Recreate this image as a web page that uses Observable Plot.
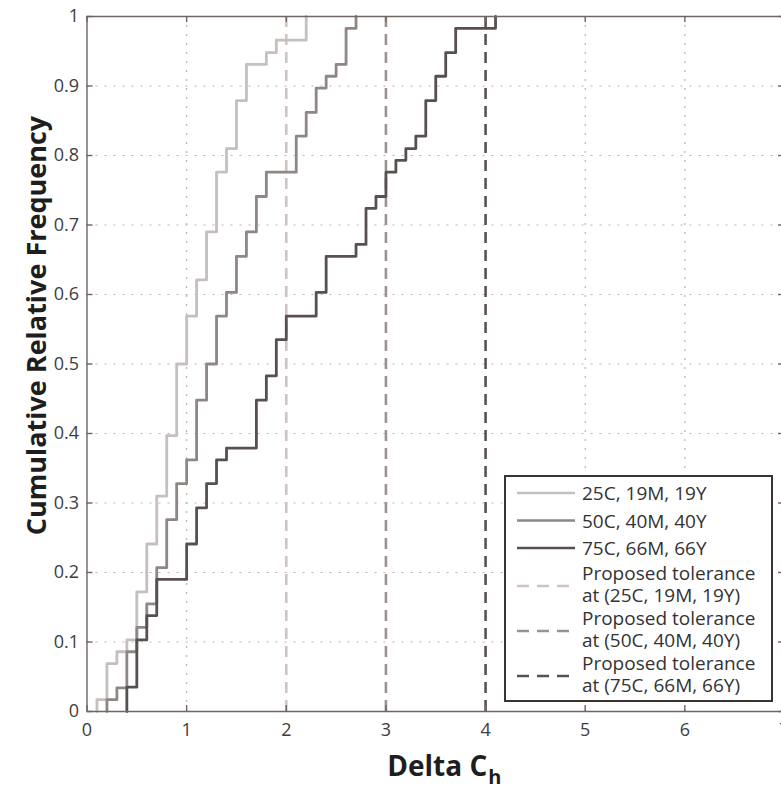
<!DOCTYPE html>
<html><head><meta charset="utf-8">
<script src="https://cdn.jsdelivr.net/npm/d3@7"></script>
<script src="https://cdn.jsdelivr.net/npm/@observablehq/plot@0.6"></script>
<style>
html,body{margin:0;padding:0;background:#fff;overflow:hidden;}
#wrap{position:relative;width:781px;height:788px;overflow:hidden;}
#wrap svg.legend{position:absolute;left:0;top:0;}
</style></head><body><div id="wrap"></div>
<script>
// ---- data ----
const seriesNames = ["25C, 19M, 19Y", "50C, 40M, 40Y", "75C, 66M, 66Y"];
const lightX = [0.1,0.2,0.3,0.4,0.5,0.6,0.7,0.8,0.9,1.0,1.1,1.2,1.3,1.4,1.5,1.6,1.8,1.9,2.2];
const lightY = [0.017,0.069,0.086,0.103,0.172,0.241,0.310,0.397,0.500,0.569,0.621,0.690,0.776,0.810,0.879,0.931,0.948,0.966,1.0];
const mediumX = [0.2,0.3,0.4,0.5,0.6,0.7,0.8,0.9,1.0,1.1,1.2,1.3,1.4,1.5,1.6,1.7,1.8,2.1,2.2,2.3,2.4,2.5,2.6,2.7];
const mediumY = [0.017,0.034,0.086,0.121,0.155,0.207,0.276,0.328,0.362,0.448,0.500,0.569,0.603,0.655,0.690,0.741,0.776,0.828,0.862,0.897,0.914,0.931,0.983,1.0];
const darkX = [0.4,0.5,0.6,0.7,1.0,1.1,1.2,1.3,1.4,1.7,1.8,1.9,2.0,2.3,2.4,2.7,2.8,2.9,3.0,3.1,3.2,3.3,3.4,3.5,3.6,3.7,4.1];
const darkY = [0.035,0.103,0.138,0.190,0.241,0.293,0.328,0.362,0.379,0.448,0.483,0.535,0.569,0.603,0.655,0.672,0.724,0.741,0.776,0.793,0.810,0.828,0.879,0.914,0.948,0.983,1.0];
const toleranceX = [2, 3, 4];
const toleranceNames = ["at (25C, 19M, 19Y)", "at (50C, 40M, 40Y)", "at (75C, 66M, 66Y)"];
const xTicks = [0,1,2,3,4,5,6,7];
const xTickLabels = ["0","1","2","3","4","5","6","7"];
const yTicks = [0,0.1,0.2,0.3,0.4,0.5,0.6,0.7,0.8,0.9,1];
const yTickLabels = ["0","0.1","0.2","0.3","0.4","0.5","0.6","0.7","0.8","0.9","1"];
const yTitle = "Cumulative Relative Frequency";
const xTitle = "Delta C";
const xTitleSub = "h";

// ---- styles ----
const lineColors = ["#c5bfbd", "#8e8785", "#585050"];
const tolColors = ["#cfc4bf", "#9c928e", "#5a5251"];
const frameColor = "#6f6562";
const gridColor = "#bdb4b0";
const font = "'Open Sans', sans-serif";

const series = [[lightX, lightY], [mediumX, mediumY], [darkX, darkY]].map(([xs, ys]) =>
  [{x: xs[0], y: 0}, ...xs.map((x, i) => ({x, y: ys[i]}))]
);

const marks = [
  Plot.ruleX(xTicks.slice(1, -1), {x: d => d, stroke: gridColor, strokeWidth: 1.2, strokeDasharray: "2,7"}),
  Plot.ruleY(yTicks.slice(1, -1), {y: d => d, stroke: gridColor, strokeWidth: 1.2, strokeDasharray: "2,7"}),
  ...toleranceX.map((t, i) => Plot.ruleX([t], {x: d => d, stroke: tolColors[i], strokeWidth: 2.6, strokeDasharray: "11,7"})),
  ...series.map((data, i) => Plot.line(data, {x: "x", y: "y", curve: "step-after", stroke: lineColors[i], strokeWidth: 2.8})),
  // frame
  Plot.ruleX([0, 7], {x: d => d, stroke: frameColor, strokeWidth: 1.4}),
  Plot.ruleY([0, 1], {y: d => d, stroke: frameColor, strokeWidth: 1.4}),
  // inward ticks
  Plot.ruleX(xTicks, {x: d => d, y1: () => 0, y2: () => 0, insetTop: -6, stroke: frameColor, strokeWidth: 1.4}),
  Plot.ruleX(xTicks, {x: d => d, y1: () => 1, y2: () => 1, insetBottom: -6, stroke: frameColor, strokeWidth: 1.4}),
  Plot.ruleY(yTicks, {y: d => d, x1: () => 0, x2: () => 0, insetRight: -6, stroke: frameColor, strokeWidth: 1.4}),
  Plot.ruleY(yTicks, {y: d => d, x1: () => 7, x2: () => 7, insetLeft: -6, stroke: frameColor, strokeWidth: 1.4}),
  // tick labels
  Plot.axisX(xTicks, {anchor: "bottom", tickSize: 0, tickPadding: 12, fontSize: 18, fill: "#3d3d3d", label: null,
    tickFormat: d => xTickLabels[xTicks.indexOf(d)]}),
  Plot.axisY(yTicks, {anchor: "left", tickSize: 0, tickPadding: 8, fontSize: 18, fill: "#3d3d3d", label: null,
    tickFormat: d => yTickLabels[yTicks.indexOf(d)]}),
  // axis titles
  Plot.text([yTitle], {text: d => d, frameAnchor: "left", textAnchor: "middle", rotate: -90, dx: -41.5, dy: -38.5, lineAnchor: "bottom",
    fontSize: 27, fontWeight: 700, fill: "#1e1e1e"}),
  Plot.text([xTitle], {text: d => d, frameAnchor: "bottom", textAnchor: "end", lineAnchor: "bottom", dx: 53, dy: 64,
    fontSize: 28, fontWeight: 700, fill: "#1e1e1e"}),
  Plot.text([xTitleSub], {text: d => d, frameAnchor: "bottom", textAnchor: "start", lineAnchor: "bottom", dx: 54, dy: 72,
    fontSize: 20, fontWeight: 700, fill: "#1e1e1e"})
];

const chart = Plot.plot({
  width: 781, height: 788,
  marginLeft: 86.5, marginRight: 0, marginTop: 16, marginBottom: 77,
  x: {domain: [0, 7], range: [86.5, 784]},
  y: {domain: [0, 1], range: [711, 16]},
  style: {fontFamily: font, background: "white", color: "#3d3d3d", overflow: "visible"},
  marks
});
const wrap = document.getElementById("wrap");
wrap.appendChild(chart);

// ---- legend (overlay) ----
const ns = "http://www.w3.org/2000/svg";
const leg = document.createElementNS(ns, "svg");
leg.setAttribute("class", "legend");
leg.setAttribute("width", 781); leg.setAttribute("height", 788);
function el(tag, attrs, text, parent = leg) {
  const e = document.createElementNS(ns, tag);
  for (const k in attrs) e.setAttribute(k, attrs[k]);
  if (text != null) e.textContent = text;
  parent.appendChild(e); return e;
}
el("rect", {x: 505, y: 476, width: 267, height: 225, fill: "white", stroke: "#3b3331", "stroke-width": 2});
const tStyle = {"font-family": font, "font-size": 19, fill: "#333"};
seriesNames.forEach((name, i) => {
  const b = 500 + i * 27.5;
  el("line", {x1: 517, x2: 575, y1: b - 7, y2: b - 7, stroke: lineColors[i], "stroke-width": 2.6});
  el("text", {...tStyle, x: 582, y: b}, name);
});
toleranceNames.forEach((name, i) => {
  const b = 580 + i * 45;
  el("line", {x1: 517, x2: 575, y1: b + 6, y2: b + 6, stroke: tolColors[i], "stroke-width": 2.6, "stroke-dasharray": "12,8"});
  const t = el("text", {...tStyle, x: 582, y: b});
  el("tspan", {x: 582, dy: 0}, "Proposed tolerance", t);
  el("tspan", {x: 582, dy: 22}, name, t);
});
wrap.appendChild(leg);
</script></body></html>
